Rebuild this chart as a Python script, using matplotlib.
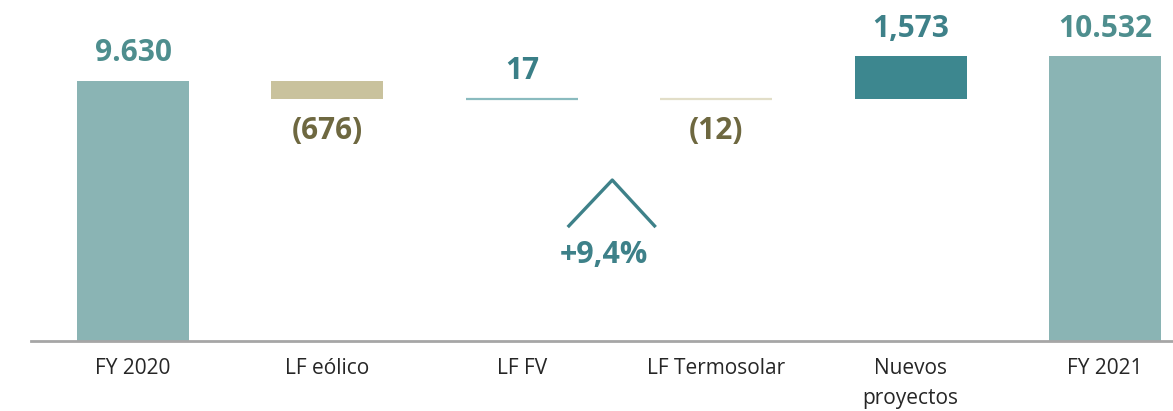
import matplotlib
matplotlib.use("Agg")
import matplotlib.pyplot as plt
import numpy as np

# ---------------------------------------------------------------
# Data (waterfall FY2020 -> FY2021)
# ---------------------------------------------------------------
categories = ['FY 2020', 'LF eólico', 'LF FV', 'LF Termosolar', 'Nuevos\nproyectos', 'FY 2021']
values = [9630, -676, 17, -12, 1573, 10532]
value_labels = ['9.630', '(676)', '17', '(12)', '1,573', '10.532']
is_total = [True, False, False, False, False, True]
growth_label = '+9,4%'

# colours
c_total = '#8AB4B4'
c_neg = '#C9C29D'
c_neg_light = '#E2DEC8'
c_pos_light = '#8ABBBF'
c_pos = '#3D878F'
bar_colors = [c_total, c_neg, c_pos_light, c_neg_light, c_pos, c_total]
label_colors = ['#4E8E8E', '#6E6840', '#3A7F87', '#6E6840', '#3E8189', '#4E8E8E']

# running totals -> bottoms / heights
bottoms = []
heights = []
running = 0
for v, tot in zip(values, is_total):
    if tot:
        bottoms.append(0)
        heights.append(v)
        running = v
    else:
        if v >= 0:
            bottoms.append(running)
        else:
            bottoms.append(running + v)
        heights.append(abs(v))
        running += v

x = np.arange(len(categories))

fig = plt.figure(figsize=(11.73, 4.11), dpi=100)
ax = fig.add_axes([31 / 1173, 70 / 411, 1142 / 1173, 341 / 411])

for i in range(len(x)):
    lw = 1.6 if heights[i] < 100 else 0
    ax.bar(x[i], heights[i], bottom=bottoms[i], width=0.576, color=bar_colors[i],
           edgecolor=bar_colors[i], linewidth=lw)

ax.set_xlim(-0.525, 5.35)
ax.set_ylim(0, 12617)

# value labels
for i in range(len(x)):
    top = bottoms[i] + heights[i]
    if values[i] >= 0:
        ax.annotate(value_labels[i], (x[i], top), xytext=(0, 20), textcoords='offset points',
                    ha='center', va='center', fontsize=21.5, fontweight='bold',
                    color=label_colors[i], family='Open Sans')
    else:
        ax.annotate(value_labels[i], (x[i], bottoms[i]), xytext=(0, -23), textcoords='offset points',
                    ha='center', va='center', fontsize=21.5, fontweight='bold',
                    color=label_colors[i], family='Open Sans')

# growth caret + label
ax.plot([0.470, 0.509, 0.547], [0.334, 0.472, 0.334], transform=ax.transAxes,
        color='#3E8189', lw=2.4, solid_capstyle='butt', clip_on=False)
ax.text(0.502, 0.252, growth_label, transform=ax.transAxes, ha='center', va='center',
        fontsize=22, fontweight='bold', color='#3E8189', family='Open Sans')

# axes styling
for s in ['top', 'right', 'left']:
    ax.spines[s].set_visible(False)
ax.spines['bottom'].set_color('#A6A6A6')
ax.spines['bottom'].set_linewidth(2)
ax.set_yticks([])
ax.set_xticks(x)
ax.set_xticklabels(categories, fontsize=15, color='#262626', family='Open Sans',
                   linespacing=1.6)
ax.tick_params(axis='x', length=0, pad=12)

fig.savefig('out.png', dpi=100)
